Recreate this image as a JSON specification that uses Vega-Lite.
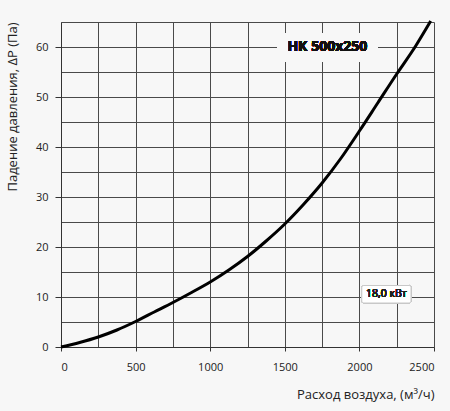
{
  "$schema": "https://vega.github.io/schema/vega-lite/v6.json",
  "background": "#f7f7f7",
  "autosize": "none",
  "padding": {"left": 61, "top": 22, "right": 16, "bottom": 64},
  "width": 373,
  "height": 325,
  "config": {
    "view": {"stroke": null},
    "font": "Open Sans",
    "axis": {"labelFont": "Open Sans", "titleFont": "Open Sans", "labelColor": "#222", "titleColor": "#222", "titleFontWeight": "normal"}
  },
  "data": {
    "values": [
      {"flow": 0, "dp": 0},
      {"flow": 125, "dp": 0.9},
      {"flow": 250, "dp": 2.0},
      {"flow": 375, "dp": 3.4},
      {"flow": 500, "dp": 5.1},
      {"flow": 625, "dp": 7.0},
      {"flow": 750, "dp": 8.9},
      {"flow": 875, "dp": 10.9},
      {"flow": 1000, "dp": 13.0},
      {"flow": 1125, "dp": 15.4},
      {"flow": 1250, "dp": 18.1},
      {"flow": 1375, "dp": 21.2},
      {"flow": 1500, "dp": 24.6},
      {"flow": 1625, "dp": 28.5},
      {"flow": 1750, "dp": 32.8},
      {"flow": 1875, "dp": 37.7},
      {"flow": 2000, "dp": 43.2},
      {"flow": 2125, "dp": 48.9},
      {"flow": 2250, "dp": 54.6},
      {"flow": 2375, "dp": 60.1},
      {"flow": 2478, "dp": 65.2}
    ]
  },
  "resolve": {"axis": {"x": "independent", "y": "independent"}},
  "layer": [
    {
      "mark": {"type": "rule", "opacity": 0},
      "encoding": {
        "x": {"field": "flow", "type": "quantitative", "scale": {"domain": [0, 2500], "nice": false},
          "axis": {"orient": "top", "values": [0, 250, 500, 750, 1000, 1250, 1500, 1750, 2000, 2250, 2500], "grid": true, "gridColor": "#4a4a4a", "gridOpacity": 1, "labels": false, "ticks": false, "domain": false, "title": null}},
        "y": {"field": "dp", "type": "quantitative", "scale": {"domain": [0, 65], "nice": false},
          "axis": {"orient": "right", "values": [0, 5, 10, 15, 20, 25, 30, 35, 40, 45, 50, 55, 60, 65], "grid": true, "gridColor": "#4a4a4a", "gridOpacity": 1, "labels": false, "ticks": false, "domain": false, "title": null}}
      }
    },
    {
      "mark": {"type": "rect", "fill": "#f7f7f7"},
      "encoding": {
        "x": {"datum": 1450, "type": "quantitative", "axis": null},
        "x2": {"datum": 2120},
        "y": {"datum": 62.8, "type": "quantitative", "axis": null},
        "y2": {"datum": 57.0}
      }
    },
    {
      "mark": {"type": "text", "text": "НК 500x250", "fontWeight": "bold", "fontSize": 14, "font": "Open Sans", "color": "#111", "align": "center", "baseline": "middle"},
      "encoding": {
        "x": {"datum": 1785, "type": "quantitative", "axis": null},
        "y": {"datum": 60, "type": "quantitative", "axis": null}
      }
    },
    {
      "mark": {"type": "rect", "fill": "#ffffff", "stroke": "#c8c8c8", "strokeWidth": 1, "cornerRadius": 2},
      "encoding": {
        "x": {"datum": 2016, "type": "quantitative", "axis": null},
        "x2": {"datum": 2346},
        "y": {"datum": 12.3, "type": "quantitative", "axis": null},
        "y2": {"datum": 8.8}
      }
    },
    {
      "mark": {"type": "text", "text": "18,0 кВт", "fontSize": 10.5, "font": "Open Sans", "color": "#222", "align": "center", "baseline": "middle"},
      "encoding": {
        "x": {"datum": 2181, "type": "quantitative", "axis": null},
        "y": {"datum": 10.55, "type": "quantitative", "axis": null}
      }
    },
    {
      "mark": {"type": "line", "color": "#000", "strokeWidth": 3, "interpolate": "monotone"},
      "encoding": {
        "x": {"field": "flow", "type": "quantitative",
          "axis": {"orient": "bottom", "values": [0, 500, 1000, 1500, 2000, 2500], "format": "d", "grid": false, "domainColor": "#333", "tickColor": "#333", "tickSize": 4, "labelFontSize": 11, "labelPadding": 10,
            "title": "Расход воздуха, (м³/ч)", "titleFontSize": 13, "titleAnchor": "end", "titlePadding": 16}},
        "y": {"field": "dp", "type": "quantitative",
          "axis": {"orient": "left", "values": [0, 10, 20, 30, 40, 50, 60], "grid": false, "domainColor": "#333", "tickColor": "#333", "tickSize": 6, "labelFontSize": 11, "labelPadding": 7,
            "title": "Падение давления, ΔP (Па)", "titleFontSize": 13, "titleAnchor": "end", "titlePadding": 16}}
      }
    }
  ]
}
